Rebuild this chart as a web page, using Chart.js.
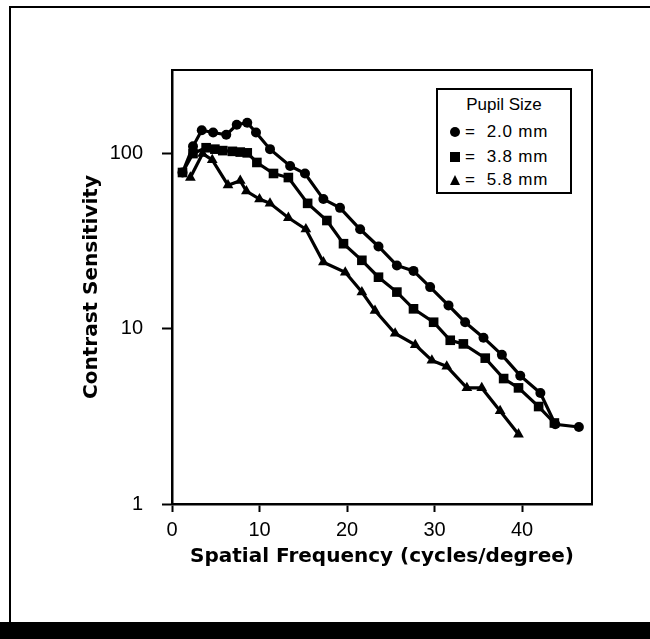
<!DOCTYPE html>
<html>
<head>
<meta charset="utf-8">
<script src="https://cdn.jsdelivr.net/npm/chart.js@4/dist/chart.umd.min.js"></script>
<style>
  html, body { margin: 0; padding: 0; background: #fff; }
  #wrap { position: relative; width: 650px; height: 639px; overflow: hidden; background: #fff; }
  #frameL { position: absolute; left: 9px; top: 6px; width: 2px; height: 618px; background: #000; }
  #frameT { position: absolute; left: 9px; top: 6px; width: 650px; height: 2px; background: #000; }
  #frameB { position: absolute; left: 0; top: 622px; width: 650px; height: 17px; background: #000; }
  #legend { position: absolute; left: 436px; top: 88px; width: 136px; height: 106px;
            border: 2px solid #000; box-sizing: border-box; background: #fff;
            font-family: "Liberation Sans", Arial, sans-serif; color: #000; }
  #legend .title { position: absolute; left: 0; width: 100%; top: 5px; text-align: center; font-size: 17px; }
  #legend .row { position: absolute; left: 27px; font-size: 17px; letter-spacing: 0.8px; white-space: pre; }
  #legend .mk { position: absolute; left: 12px; }
  .c { width: 10px; height: 10px; border-radius: 50%; background: #000; }
  .s { width: 10px; height: 10px; background: #000; }
  .t { width: 0; height: 0; border-left: 5.5px solid transparent; border-right: 5.5px solid transparent; border-bottom: 10px solid #000; }
  canvas { position: absolute; left: 0; top: 0; }
</style>
</head>
<body>
<div id="wrap">
  <canvas id="c" width="650" height="639"></canvas>
  <div id="frameL"></div><div id="frameT"></div><div id="frameB"></div>
  <div id="legend">
    <div class="title">Pupil Size</div>
    <div class="mk c" style="top:37px"></div><div class="row" style="top:32px">=  2.0 mm</div>
    <div class="mk s" style="top:62px"></div><div class="row" style="top:57px">=  3.8 mm</div>
    <div class="mk t" style="top:85px"></div><div class="row" style="top:80px">=  5.8 mm</div>
  </div>
</div>
<script>
// ---- data ----
const seriesLabels = ["= 2.0 mm", "= 3.8 mm", "= 5.8 mm"];

const freq20 = [1.2, 2.4, 3.4, 4.7, 6.2, 7.4, 8.6, 9.6, 11.2, 13.5, 15.2, 17.3, 19.2, 21.5, 23.6, 25.7, 27.6, 29.5, 31.6, 33.5, 35.6, 37.7, 39.8, 42.1, 43.8, 46.5];
const cs20   = [78, 110, 136, 132, 128, 146, 150, 132, 106, 85, 77, 55, 49, 37, 29.5, 23, 21.4, 17.3, 13.6, 10.9, 8.9, 7.1, 5.4, 4.3, 2.85, 2.75];

const freq38 = [1.2, 2.4, 3.9, 4.9, 5.8, 6.9, 7.8, 8.6, 9.7, 11.6, 13.3, 15.5, 17.7, 19.6, 21.7, 23.6, 25.7, 27.6, 29.9, 31.8, 33.3, 35.8, 37.9, 39.6, 41.9, 43.7];
const cs38   = [78, 100, 108, 106, 104, 103, 102, 101, 89, 77, 73, 52, 41.5, 30.6, 24.6, 19.7, 16.2, 13, 10.9, 8.6, 8.2, 6.8, 5.2, 4.6, 3.6, 2.9];

const freq58 = [2.1, 3.5, 4.6, 6.4, 7.8, 8.5, 10.0, 11.2, 13.3, 15.3, 17.3, 19.8, 21.7, 23.2, 25.5, 27.8, 29.7, 31.4, 33.7, 35.4, 37.5, 39.6];
const cs58   = [73, 100, 92, 66, 70, 61, 55, 52, 43, 37, 24, 21, 16.2, 12.7, 9.4, 8.1, 6.6, 6.1, 4.6, 4.6, 3.4, 2.5];

const xTicks = [0, 10, 20, 30, 40];
const yTicks = [1, 10, 100];
const xRange = [0, 48];
const yRange = [1, 300];
const xTitle = "Spatial Frequency (cycles/degree)";
const yTitle = "Contrast Sensitivity";

const toPts = (xs, ys) => xs.map((x, i) => ({ x: x, y: ys[i] }));

const boxPlugin = {
  id: 'box',
  afterDraw(chart) {
    const a = chart.chartArea, ctx = chart.ctx;
    ctx.save();
    ctx.strokeStyle = '#000';
    ctx.lineWidth = 2;
    ctx.beginPath();
    ctx.moveTo(a.left, a.top);
    ctx.lineTo(a.right, a.top);
    ctx.lineTo(a.right, a.bottom);
    ctx.stroke();
    ctx.restore();
  }
};

const common = { borderColor: '#000', backgroundColor: '#000', borderWidth: 3.2, pointBorderWidth: 0, tension: 0, showLine: true, clip: false };

new Chart(document.getElementById('c'), {
  type: 'scatter',
  data: {
    datasets: [
      Object.assign({ label: seriesLabels[0], data: toPts(freq20, cs20), pointStyle: 'circle', pointRadius: 5 }, common),
      Object.assign({ label: seriesLabels[1], data: toPts(freq38, cs38), pointStyle: 'rect', pointRadius: 6.8 }, common),
      Object.assign({ label: seriesLabels[2], data: toPts(freq58, cs58), pointStyle: 'triangle', pointRadius: 6.2 }, common)
    ]
  },
  options: {
    responsive: false,
    animation: false,
    devicePixelRatio: 1,
    layout: { padding: { left: 80, top: 70, right: 58, bottom: 65 } },
    plugins: { legend: { display: false }, tooltip: { enabled: false } },
    scales: {
      x: {
        type: 'linear', min: xRange[0], max: xRange[1],
        afterBuildTicks: s => { s.ticks = xTicks.map(v => ({ value: v })); },
        afterFit: s => { s.height = 70; },
        grid: { drawOnChartArea: false, drawTicks: true, tickLength: 8, tickWidth: 2, tickColor: '#000' },
        border: { display: true, color: '#000', width: 2.5 },
        ticks: { color: '#000', padding: 6, font: { family: 'Liberation Sans', size: 20 }, maxRotation: 0 },
        title: { display: true, text: xTitle, color: '#000', padding: { top: 0, bottom: 5 },
                 font: { family: 'DejaVu Sans', size: 20, weight: 'bold' } }
      },
      y: {
        type: 'logarithmic', min: yRange[0], max: yRange[1],
        afterBuildTicks: s => { s.ticks = yTicks.map(v => ({ value: v })); },
        afterFit: s => { s.width = 92; },
        grid: { drawOnChartArea: false, drawTicks: true, tickLength: 10, tickWidth: 2, tickColor: '#000' },
        border: { display: true, color: '#000', width: 2.5 },
        ticks: { color: '#000', padding: 19, font: { family: 'Liberation Sans', size: 20 }, callback: v => String(v) },
        title: { display: true, text: yTitle, color: '#000', padding: { top: 0, bottom: 0 },
                 font: { family: 'DejaVu Sans', size: 20, weight: 'bold' } }
      }
    }
  },
  plugins: [boxPlugin]
});
</script>
</body>
</html>
